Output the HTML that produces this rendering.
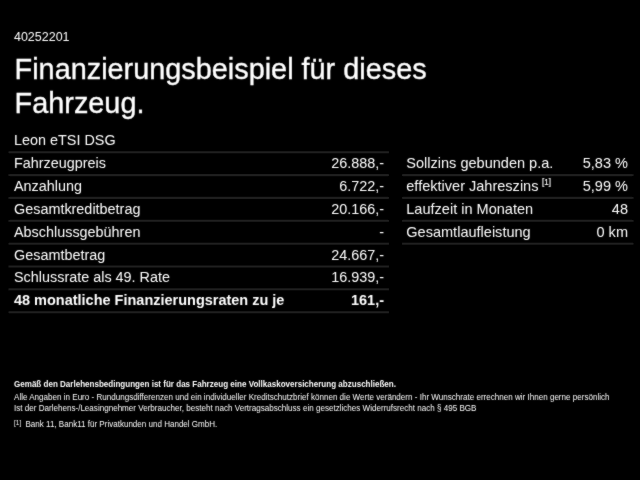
<!DOCTYPE html><html><head><meta charset="utf-8"><style>html,body{margin:0;padding:0;background:#000;width:640px;height:480px;overflow:hidden}svg{display:block;will-change:transform}text{font-family:"Liberation Sans",sans-serif;fill:#fff}</style></head><body>
<svg width="640" height="480" viewBox="0 0 640 480">
<defs><filter id="bl" x="-5%" y="-5%" width="110%" height="110%"><feConvolveMatrix order="3" kernelMatrix="1 2 1 2 24 2 1 2 1" preserveAlpha="false"/></filter></defs>
<rect width="640" height="480" fill="#000"/>
<g filter="url(#bl)">
<text x="14.00" y="41.00" font-size="12.50" text-anchor="start" font-weight="normal" transform="translate(0 -2.050) scale(1 1.0500)">40252201</text>
<text x="14.60" y="78.90" font-size="28.85" text-anchor="start" font-weight="normal" transform="translate(0 -3.156) scale(1 1.0400)" stroke="#fff" stroke-width="0.35">Finanzierungsbeispiel für dieses</text>
<text x="14.60" y="113.00" font-size="28.85" text-anchor="start" font-weight="normal" transform="translate(0 -4.520) scale(1 1.0400)" stroke="#fff" stroke-width="0.35">Fahrzeug.</text>
<text x="14.00" y="145.30" font-size="14.40" text-anchor="start" font-weight="normal" transform="translate(0 -10.171) scale(1 1.0700)">Leon eTSI DSG</text>
<rect x="8.50" y="151.330" width="380.50" height="1.800" fill="#262626"/>
<text x="14.00" y="168.16" font-size="14.40" text-anchor="start" font-weight="normal" transform="translate(0 -11.771) scale(1 1.0700)">Fahrzeugpreis</text>
<text x="384.00" y="168.16" font-size="14.40" text-anchor="end" font-weight="normal" transform="translate(0 -11.771) scale(1 1.0700)">26.888,-</text>
<rect x="8.50" y="174.187" width="380.50" height="1.800" fill="#262626"/>
<text x="14.00" y="191.01" font-size="14.40" text-anchor="start" font-weight="normal" transform="translate(0 -13.371) scale(1 1.0700)">Anzahlung</text>
<text x="384.00" y="191.01" font-size="14.40" text-anchor="end" font-weight="normal" transform="translate(0 -13.371) scale(1 1.0700)">6.722,-</text>
<rect x="8.50" y="197.044" width="380.50" height="1.800" fill="#262626"/>
<text x="14.00" y="213.87" font-size="14.40" text-anchor="start" font-weight="normal" transform="translate(0 -14.971) scale(1 1.0700)">Gesamtkreditbetrag</text>
<text x="384.00" y="213.87" font-size="14.40" text-anchor="end" font-weight="normal" transform="translate(0 -14.971) scale(1 1.0700)">20.166,-</text>
<rect x="8.50" y="219.901" width="380.50" height="1.800" fill="#262626"/>
<text x="14.00" y="236.73" font-size="14.40" text-anchor="start" font-weight="normal" transform="translate(0 -16.571) scale(1 1.0700)">Abschlussgebühren</text>
<text x="384.00" y="236.73" font-size="14.40" text-anchor="end" font-weight="normal" transform="translate(0 -16.571) scale(1 1.0700)">-</text>
<rect x="8.50" y="242.758" width="380.50" height="1.800" fill="#262626"/>
<text x="14.00" y="259.59" font-size="14.40" text-anchor="start" font-weight="normal" transform="translate(0 -18.171) scale(1 1.0700)">Gesamtbetrag</text>
<text x="384.00" y="259.59" font-size="14.40" text-anchor="end" font-weight="normal" transform="translate(0 -18.171) scale(1 1.0700)">24.667,-</text>
<rect x="8.50" y="265.615" width="380.50" height="1.800" fill="#262626"/>
<text x="14.00" y="282.44" font-size="14.40" text-anchor="start" font-weight="normal" transform="translate(0 -19.771) scale(1 1.0700)">Schlussrate als 49. Rate</text>
<text x="384.00" y="282.44" font-size="14.40" text-anchor="end" font-weight="normal" transform="translate(0 -19.771) scale(1 1.0700)">16.939,-</text>
<rect x="8.50" y="288.472" width="380.50" height="1.800" fill="#262626"/>
<text x="14.00" y="305.30" font-size="14.50" text-anchor="start" font-weight="bold" transform="translate(0 -21.371) scale(1 1.0700)">48 monatliche Finanzierungsraten zu je</text>
<text x="384.00" y="305.30" font-size="14.50" text-anchor="end" font-weight="bold" transform="translate(0 -21.371) scale(1 1.0700)">161,-</text>
<rect x="8.50" y="311.329" width="380.50" height="1.800" fill="#262626"/>
<text x="406.30" y="168.16" font-size="14.55" text-anchor="start" font-weight="normal" transform="translate(0 -11.771) scale(1 1.0700)">Sollzins gebunden p.a.</text>
<text x="628.00" y="168.16" font-size="14.55" text-anchor="end" font-weight="normal" transform="translate(0 -11.771) scale(1 1.0700)">5,83 %</text>
<rect x="402.00" y="174.187" width="231.50" height="1.800" fill="#262626"/>
<text x="406.30" y="191.01" font-size="14.55" text-anchor="start" font-weight="normal" transform="translate(0 -13.371) scale(1 1.0700)">effektiver Jahreszins</text>
<text x="628.00" y="191.01" font-size="14.55" text-anchor="end" font-weight="normal" transform="translate(0 -13.371) scale(1 1.0700)">5,99 %</text>
<text x="542.00" y="185.30" font-size="8.00" text-anchor="start" font-weight="normal" transform="translate(0 -22.236) scale(1 1.1200)" stroke="#fff" stroke-width="0.15">[1]</text>
<rect x="402.00" y="197.044" width="231.50" height="1.800" fill="#262626"/>
<text x="406.30" y="213.87" font-size="14.55" text-anchor="start" font-weight="normal" transform="translate(0 -14.971) scale(1 1.0700)">Laufzeit in Monaten</text>
<text x="628.00" y="213.87" font-size="14.55" text-anchor="end" font-weight="normal" transform="translate(0 -14.971) scale(1 1.0700)">48</text>
<rect x="402.00" y="219.901" width="231.50" height="1.800" fill="#262626"/>
<text x="406.30" y="236.73" font-size="14.55" text-anchor="start" font-weight="normal" transform="translate(0 -16.571) scale(1 1.0700)">Gesamtlaufleistung</text>
<text x="628.00" y="236.73" font-size="14.55" text-anchor="end" font-weight="normal" transform="translate(0 -16.571) scale(1 1.0700)">0 km</text>
<rect x="402.00" y="242.758" width="231.50" height="1.800" fill="#262626"/>
<text x="14.00" y="387.00" font-size="8.20" text-anchor="start" font-weight="bold" fill="#ececec" textLength="382.00" lengthAdjust="spacingAndGlyphs">Gemäß den Darlehensbedingungen ist für das Fahrzeug eine Vollkaskoversicherung abzuschließen.</text>
<text x="14.00" y="400.00" font-size="8.20" text-anchor="start" font-weight="normal" fill="#d4d4d4" textLength="595.50" lengthAdjust="spacingAndGlyphs">Alle Angaben in Euro - Rundungsdifferenzen und ein individueller Kreditschutzbrief können die Werte verändern - Ihr Wunschrate errechnen wir Ihnen gerne persönlich</text>
<text x="14.00" y="411.00" font-size="8.20" text-anchor="start" font-weight="normal" fill="#d4d4d4" textLength="462.50" lengthAdjust="spacingAndGlyphs">Ist der Darlehens-/Leasingnehmer Verbraucher, besteht nach Vertragsabschluss ein gesetzliches Widerrufsrecht nach § 495 BGB</text>
<text x="14.00" y="425.00" font-size="6.50" text-anchor="start" font-weight="normal" fill="#d4d4d4">[1]</text>
<text x="25.50" y="427.30" font-size="8.20" text-anchor="start" font-weight="normal" fill="#d4d4d4" textLength="191.80" lengthAdjust="spacingAndGlyphs">Bank 11, Bank11 für Privatkunden und Handel GmbH.</text>
</g></svg></body></html>
